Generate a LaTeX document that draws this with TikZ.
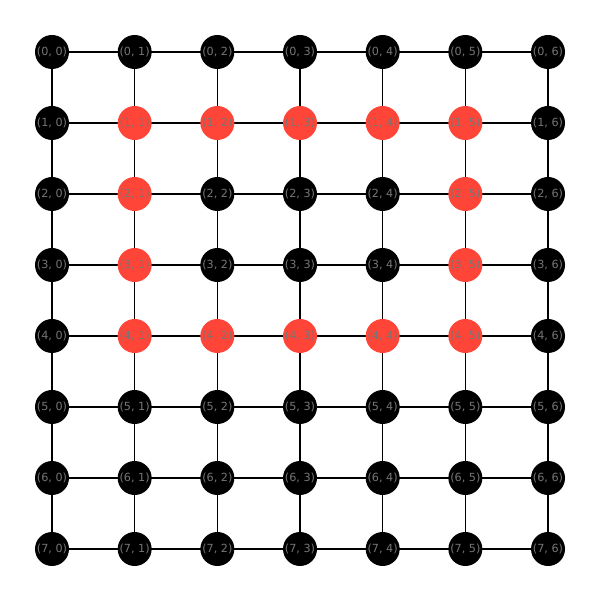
\documentclass[tikz,border=0pt]{standalone}
\usepackage{fontspec}
\setmainfont{DejaVu Sans}
\usepackage{tikz}
\usetikzlibrary{backgrounds}
\definecolor{ringred}{HTML}{FF4438}
\definecolor{labelgrey}{HTML}{767676}

\begin{document}
\begin{tikzpicture}[x=0.5pt,y=0.5pt,
  site/.style={circle,fill=black,minimum size=17pt,inner sep=0pt,text=labelgrey,font=\fontsize{5.6}{6}\selectfont},
  ring/.style={site,fill=ringred},
  link/.style={draw=black,line width=0.75pt}]

\useasboundingbox (0,0) rectangle (600,600);

% sites
\foreach \i in {0,...,7}{
  \foreach \j in {0,...,6}{
    \pgfmathtruncatemacro{\isring}{(\i>=1)&&(\i<=4)&&(\j>=1)&&(\j<=5)&&((\i==1)||(\i==4)||(\j==1)||(\j==5))}
    \ifnum\isring=1
      \node[ring] (n-\i-\j) at ({52+82.67*\j},{548-71*\i}) {(\i, \j)};
    \else
      \node[site] (n-\i-\j) at ({52+82.67*\j},{548-71*\i}) {(\i, \j)};
    \fi
  }
}

% links
\begin{scope}[on background layer]
\foreach \i in {0,...,7}{
  \foreach \j [count=\k from 1] in {0,...,5}{
    \draw[link] (n-\i-\j.center) -- (n-\i-\k.center);
  }
}
\foreach \j in {0,...,6}{
  \foreach \i [count=\k from 1] in {0,...,6}{
    \draw[link] (n-\i-\j.center) -- (n-\k-\j.center);
  }
}
\end{scope}
\end{tikzpicture}
\end{document}
